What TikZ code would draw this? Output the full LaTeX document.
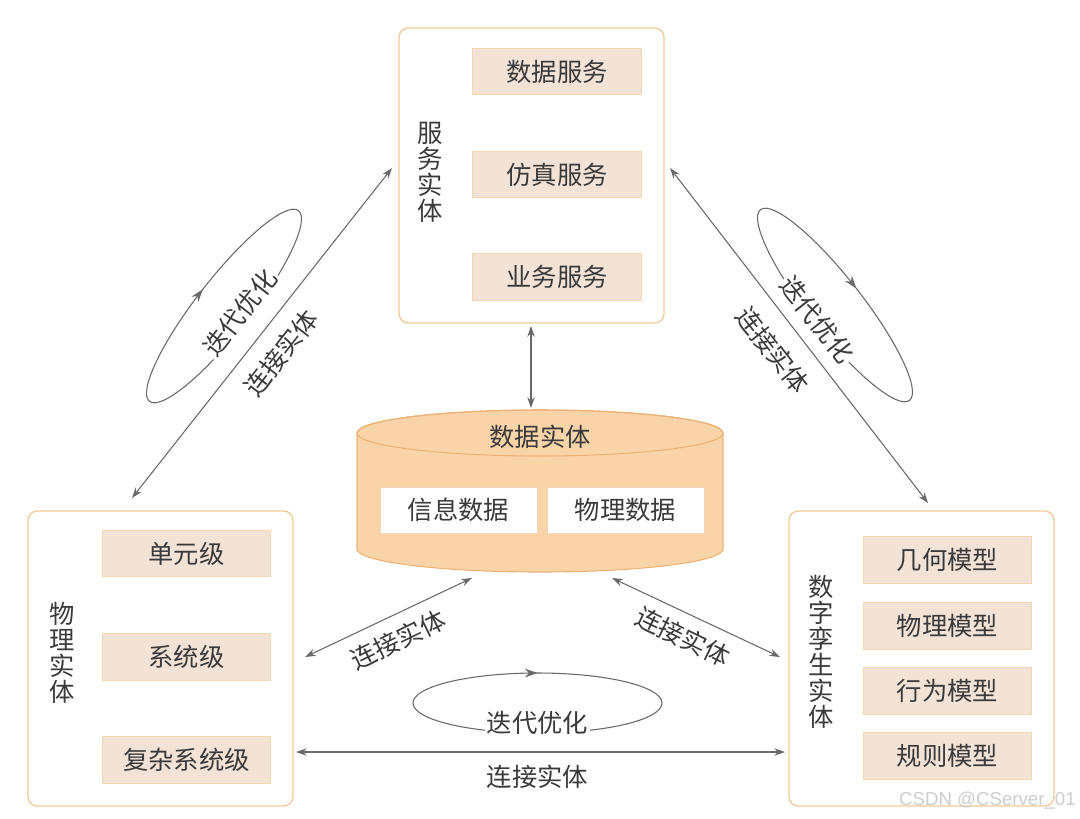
\documentclass[tikz,border=0pt]{standalone}
\usepackage{fontspec}
\setmainfont{Noto Sans CJK SC}
\newfontfamily\wmfont{Liberation Sans}
\usetikzlibrary{arrows.meta,decorations.markings}
\definecolor{boxc}{RGB}{240,202,152}
\definecolor{inbc}{RGB}{244,214,178}
\definecolor{inf}{RGB}{243,226,214}
\definecolor{cylf}{RGB}{249,212,168}
\definecolor{cylb}{RGB}{236,178,118}
\definecolor{txt}{RGB}{58,58,58}
\definecolor{linec}{RGB}{105,105,105}
\definecolor{wmc}{RGB}{205,205,205}
\begin{document}
\begin{tikzpicture}[x=0.75pt,y=-0.75pt,
  font=\fontsize{19pt}{19.5pt}\selectfont,
  bigbox/.style={draw=boxc, line width=1pt, rounded corners=7pt, minimum width=198.75pt, minimum height=221.25pt, inner sep=0pt},
  inbox/.style={draw=inbc, fill=inf, line width=0.6pt, minimum width=126.5pt, minimum height=35pt, inner sep=0pt, text=txt},
  datbox/.style={draw=inbc, fill=white, line width=0.6pt, minimum width=117.75pt, minimum height=34.5pt, inner sep=0pt, text=txt},
  vlabel/.style={align=center, text=txt, inner sep=0pt},
  conn/.style={draw=linec, line width=0.8pt, {Stealth[length=8pt,width=5.5pt]}-{Stealth[length=8pt,width=5.5pt]}},
  loopc/.style={draw=linec, line width=0.8pt, postaction={decorate}, decoration={markings, mark=at position 0.75 with {\arrow{Stealth[length=9.5pt,width=6.5pt]}}}},
  lab/.style={text=txt, inner sep=1pt},
  labw/.style={text=txt, inner sep=1.5pt, fill=white}
]
\fill[white] (0,0) rectangle (1080,818);
\useasboundingbox (0,0) rectangle (1080,818);

% service entity
\node[bigbox] (svc) at (531.5,175.5) {};
\node[vlabel] (svcl) at (430,172) {服\\务\\实\\体};
\node[inbox] (s1) at (557,71.5) {数据服务};
\node[inbox] (s2) at (557,174.5) {仿真服务};
\node[inbox] (s3) at (557,277) {业务服务};

% physical entity
\node[bigbox] (phy) at (160.5,658.5) {};
\node[vlabel] (phyl) at (62,653) {物\\理\\实\\体};
\node[inbox] (p1) at (186.5,553.5) {单元级};
\node[inbox] (p2) at (186.5,657) {系统级};
\node[inbox] (p3) at (186.5,760) {复杂系统级};

% digital twin entity
\node[bigbox] (dt) at (921.5,658.5) {};
\node[vlabel] (dtl) at (821,652) {数\\字\\孪\\生\\实\\体};
\node[inbox] (d1) at (947.5,560) {几何模型};
\node[inbox] (d2) at (947.5,626) {物理模型};
\node[inbox] (d3) at (947.5,691) {行为模型};
\node[inbox] (d4) at (947.5,756) {规则模型};

% data entity cylinder
\node[inner sep=0pt, minimum width=274.5pt, minimum height=121.5pt] (cyl) at (540,491) {};
\filldraw[fill=cylf, draw=cylb, line width=0.8pt] (357,433) -- (357,549)
  arc[start angle=180, end angle=0, x radius=183, y radius=23] -- (723,433)
  arc[start angle=0, end angle=-180, x radius=183, y radius=23] -- cycle;
\draw[cylb, line width=0.8pt] (540,433) ellipse [x radius=183, y radius=23];
\node[lab] (cylt) at (540,437) {数据实体};
\node[datbox] (c1) at (458.5,510) {信息数据};
\node[datbox] (c2) at (625.5,510) {物理数据};

% connector end points
\coordinate (vs) at (531,326);
\coordinate (vc) at (531,408);
\coordinate (l1) at (132,498);
\coordinate (l2) at (392,168);
\coordinate (r1) at (670,168);
\coordinate (r2) at (928,503);
\coordinate (cl1) at (305,657);
\coordinate (cl2) at (472,578);
\coordinate (cr1) at (612,578);
\coordinate (cr2) at (780,657);
\coordinate (b1) at (296,752);
\coordinate (b2) at (785,752);

\draw[conn] (vs) -- (vc);
\draw[conn] (l1) -- (l2);
\draw[conn] (r1) -- (r2);
\draw[conn] (cl1) -- (cl2);
\draw[conn] (cr1) -- (cr2);
\draw[conn] (b1) -- (b2);

% iteration loops
\draw[loopc, rotate around={52:(224,306)}] (224,306) ellipse [x radius=121, y radius=27];
\draw[loopc, rotate around={-52:(835,305)}] (835,305) ellipse [x radius=121, y radius=27];
\draw[loopc] (537.5,703) ellipse [x radius=124.5, y radius=30];

% labels
\node[labw, rotate=52] (it1) at (240,313) {迭代优化};
\node[lab, rotate=52] (lk1) at (281,353) {连接实体};
\node[labw, rotate=-52] (it2) at (817,320) {迭代优化};
\node[lab, rotate=-52] (lk2) at (773,350) {连接实体};
\node[lab, rotate=26] (lk3) at (398,640) {连接实体};
\node[lab, rotate=-26] (lk4) at (683,637) {连接实体};
\node[labw] (it3) at (537.5,723) {迭代优化};
\node[lab] (lk5) at (537.5,777) {连接实体};

\node[anchor=east, text=wmc, inner sep=0pt, font=\wmfont\fontsize{14pt}{14pt}\selectfont] (wm) at (1076,801) {CSDN @CServer\_01};
\end{tikzpicture}
\end{document}
